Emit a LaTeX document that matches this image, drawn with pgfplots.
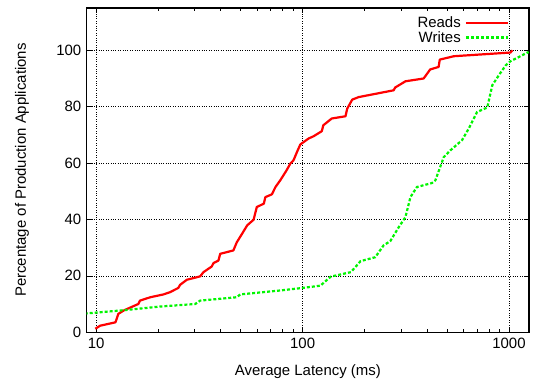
\documentclass[border=0pt]{standalone}
\usepackage{fontspec}
\setmainfont{Liberation Sans}
\usepackage{pgfplots}
\pgfplotsset{compat=1.18}
\usetikzlibrary{calc}
\begin{document}
\begin{tikzpicture}[font=\fontsize{15}{17}\selectfont]
\begin{semilogxaxis}[
  scale only axis,
  width=442bp, height=324bp,
  xmin=9, xmax=1250, ymin=0, ymax=115,
  xtick={10,100,1000}, xticklabels={10,100,1000},
  ytick={0,20,40,60,80,100},
  /pgf/number format/assume math mode=true,
  tick align=inside,
  major tick length=5bp, minor tick length=3bp,
  tick style={black, line width=0.6bp},
  axis line style={black, line width=1.2bp},
  grid=major,
  major grid style={black, dotted, line width=0.5bp},
  xlabel={Average Latency (ms)},
  ylabel={Percentage of Production Applications},
  xlabel style={at={(axis description cs:0.5,-0.1205)}, anchor=center},
  ylabel style={at={(axis description cs:-0.1463,0.5)}, anchor=center},
  xticklabel style={yshift=-2bp},
  yticklabel style={xshift=-2bp},
  legend plot pos=right,
  legend cell align=right,
  legend image code/.code={\draw[#1] (0bp,0bp) -- (42bp,0bp);},
  legend style={draw=none, fill=none, font=\fontsize{15}{17}\selectfont,
    at={(axis description cs:0.962,0.982)}, anchor=north east,
    row sep=0bp, nodes={inner sep=1bp, text height=10.8bp, text depth=1.5bp}, column sep=3bp},
]
\addplot[red, line width=2.2bp, line join=round] coordinates {
(9.9,1.2)(10.45,2.3)(12.4,3.5)(12.8,6.5)(13.6,7.7)(16.0,10)(16.3,11.2)(18.3,12.4)(21.2,13.4)(22.8,14.2)(25,15.7)(25.5,16.8)(27.5,18.6)(31.9,19.8)(33.1,21.3)(36.3,23.3)(37,24.5)(39.1,25.4)(39.9,27.8)(46.2,29)(48,31.9)(50.9,34.9)(53.9,37.9)(57.9,39.9)(60,44.4)(64.9,45.6)(66,47.9)(71,48.9)(73.9,51.5)(78,53.9)(83.6,57.4)(87.2,59.8)(90.4,61)(93.9,63.9)(97.5,66.6)(106.9,68.7)(113,69.5)(123.9,71.3)(126,73.4)(138.4,75.8)(161.4,76.6)(164.5,79.3)(174,82.5)(187,83.4)(276,85.8)(281,86.8)(315,89)(386,90)(415,93.2)(456,94.1)(462,96.7)(541,97.9)(1016,99.2)(1040,100)
};
\addlegendentry{Reads}
\addplot[color={rgb,255:red,0;green,245;blue,0}, line width=2.2bp, dash pattern=on 3bp off 2bp] coordinates {
(8.8,6.6)(14.1,7.9)(20.4,9.1)(30.2,10)(31.9,11.2)(48,12.4)(49.9,13.4)(78,14.8)(100,15.7)(122,16.5)(136.8,19.7)(171.4,21.3)(190.9,25.2)(225,26.6)(246.9,30.8)(266,32.3)(292.6,37.3)(315,40.8)(327,45.6)(333,47.9)(358,51.5)(423,52.9)(440,53.9)(483,62.1)(520,64.5)(592,68.1)(638,72.2)(700,78.1)(785,79.7)(830,87.6)(894,91.2)(965,94.7)(1016,96.1)(1135,97.9)(1245,99.4)
};
\addlegendentry{Writes}
\end{semilogxaxis}
\path ($(current axis.south west)+(-86.7bp,-51.3bp)$) rectangle ($(current axis.north east)+(10bp,8bp)$);
\end{tikzpicture}
\end{document}
